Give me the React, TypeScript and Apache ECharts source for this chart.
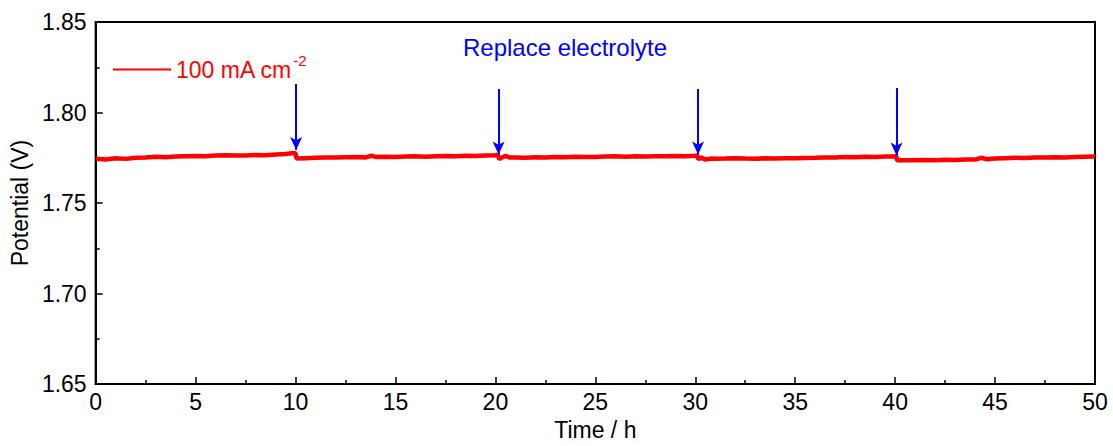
import React, { useEffect, useRef } from "react";
import * as echarts from "echarts";

const seriesName = "100 mA cm{sup|-2}";
const timeH = [
  0, 0.5, 1, 1.5, 2, 2.5, 3, 3.5, 4, 4.5, 5, 5.5, 6, 6.5, 7, 7.5, 8, 8.5, 9, 9.5, 9.95, 10.0, 10.05,
  10.5, 11, 11.5, 12, 12.5, 13, 13.5, 13.8, 14, 14.5, 15, 15.5, 16, 16.5, 17, 17.5, 18, 18.5, 19, 19.5, 20, 20.1, 20.2, 20.3, 20.5, 20.7,
  21, 21.5, 22, 22.5, 23, 23.5, 24, 24.5, 25, 25.5, 26, 26.5, 27, 27.5, 28, 28.5, 29, 29.5, 30, 30.1, 30.15, 30.3, 30.5, 30.8,
  31, 31.5, 32, 32.5, 33, 33.5, 34, 34.5, 35, 35.5, 36, 36.5, 37, 37.5, 38, 38.5, 39, 39.5, 40, 40.05, 40.1,
  40.5, 41, 41.5, 42, 42.5, 43, 43.5, 44, 44.3, 44.6, 45, 45.5, 46, 46.5, 47, 47.5, 48, 48.5, 49, 49.5, 50,
];
const potentialV = [
  1.7745, 1.7741, 1.7748, 1.7744, 1.7750, 1.7752, 1.7756, 1.7753, 1.7757, 1.7759, 1.7760, 1.7758, 1.7763, 1.7764, 1.7762, 1.7763, 1.7765, 1.7764, 1.7768, 1.7771, 1.7777, 1.7772, 1.7746,
  1.7748, 1.7750, 1.7752, 1.7751, 1.7753, 1.7754, 1.7752, 1.7761, 1.7755, 1.7756, 1.7754, 1.7757, 1.7758, 1.7756, 1.7759, 1.7760, 1.7758, 1.7761, 1.7760, 1.7762, 1.7764, 1.7767, 1.7743, 1.7750, 1.7760, 1.7752,
  1.7752, 1.7750, 1.7753, 1.7752, 1.7754, 1.7753, 1.7756, 1.7755, 1.7754, 1.7757, 1.7758, 1.7756, 1.7758, 1.7757, 1.7759, 1.7758, 1.7760, 1.7759, 1.7761, 1.7762, 1.7742, 1.7752, 1.7740, 1.7746,
  1.7745, 1.7746, 1.7748, 1.7746, 1.7745, 1.7747, 1.7746, 1.7748, 1.7747, 1.7749, 1.7750, 1.7752, 1.7751, 1.7754, 1.7753, 1.7756, 1.7755, 1.7757, 1.7758, 1.7760, 1.7737,
  1.7737, 1.7736, 1.7738, 1.7737, 1.7739, 1.7738, 1.7741, 1.7740, 1.7750, 1.7742, 1.7746, 1.7748, 1.7750, 1.7749, 1.7752, 1.7751, 1.7753, 1.7752, 1.7755, 1.7756, 1.7757,
];
// Arrow annotations: [time, top potential, bottom potential]
const arrowX = [10.03, 20.16, 30.14, 40.07];
const arrowTop = [1.8158, 1.813, 1.813, 1.8135];
const arrowBottom = [1.7793, 1.7768, 1.7768, 1.7763];
const annotationText = "Replace electrolyte";

const FONT = "Liberation Sans, Arial, sans-serif";
const FS = 23;

export default function App() {
  const ref = useRef<HTMLDivElement>(null);
  useEffect(() => {
    if (!ref.current) return;
    const chart = echarts.init(ref.current, null, { renderer: "svg" });
    const data = timeH.map((t, i) => [t, potentialV[i]]);
    chart.setOption({
      animation: false,
      backgroundColor: "#fff",
      textStyle: { fontFamily: FONT },
      grid: { left: 93, right: 18, top: 22, bottom: 56, show: true, borderColor: "#000", borderWidth: 2, containLabel: false },
      legend: {
        left: 108,
        top: 48,
        itemWidth: 58,
        itemHeight: 24,
        itemGap: 8,
        icon: "path://M0,11 L58,11 L58,13 L0,13 Z",
        data: [{ name: seriesName, itemStyle: { color: "#ff0000" } }],
        formatter: () => "100 mA cm{sup|-2}",
        textStyle: {
          color: "#ff0000",
          fontSize: FS,
          fontFamily: FONT,
          rich: {
            sup: { fontSize: 15, color: "#ff0000", fontFamily: FONT, padding: [0, 0, 18, 1] },
          },
        },
      },
      graphic: [
        {
          type: "text",
          x: 565,
          y: 47,
          style: { text: annotationText, fill: "#0000ff", fontSize: 24, fontFamily: FONT, align: "center", verticalAlign: "middle" },
        },
      ],
      xAxis: {
        type: "value",
        min: 0,
        max: 50,
        interval: 5,
        name: "Time / h",
        nameLocation: "middle",
        nameGap: 30,
        nameTextStyle: { fontSize: FS, color: "#000", fontFamily: FONT },
        axisLine: { lineStyle: { color: "#000", width: 2 } },
        axisTick: { inside: true, length: 7, lineStyle: { color: "#000", width: 1.5 } },
        minorTick: { show: true, splitNumber: 2, length: 4, lineStyle: { color: "#000", width: 1.5 } },
        axisLabel: { fontSize: FS, color: "#000", margin: 6, fontFamily: FONT },
        splitLine: { show: false },
      },
      yAxis: {
        type: "value",
        min: 1.65,
        max: 1.85,
        interval: 0.05,
        name: "Potential (V)",
        nameLocation: "middle",
        nameGap: 56,
        nameTextStyle: { fontSize: FS, color: "#000", fontFamily: FONT },
        axisLine: { show: true, lineStyle: { color: "#000", width: 2 } },
        axisTick: { show: true, inside: true, length: 7, lineStyle: { color: "#000", width: 1.5 } },
        minorTick: { show: true, splitNumber: 2, length: 4, lineStyle: { color: "#000", width: 1.5 } },
        axisLabel: { fontSize: FS, color: "#000", margin: 9, fontFamily: FONT, formatter: (v: number) => v.toFixed(2) },
        splitLine: { show: false },
      },
      series: [
        {
          name: seriesName,
          type: "line",
          data,
          showSymbol: false,
          symbol: "none",
          lineStyle: { color: "#ff0000", width: 4.5 },
          itemStyle: { color: "#ff0000" },
          z: 3,
        },
        {
          name: "arrows",
          type: "line",
          data: [],
          silent: true,
          markLine: {
            silent: true,
            symbol: ["none", "arrow"],
            symbolSize: [9, 13],
            label: { show: false },
            lineStyle: { color: "#0000ff", width: 2, type: "solid" },
            data: arrowX.map((x, i) => [
              { coord: [x, arrowTop[i]] },
              { coord: [x, arrowBottom[i]] },
            ]),
          },
          z: 4,
        },
      ],
    });
    return () => chart.dispose();
  }, []);
  return <div ref={ref} style={{ width: 1113, height: 446, position: "absolute", left: 0, top: 0 }} />;
}
